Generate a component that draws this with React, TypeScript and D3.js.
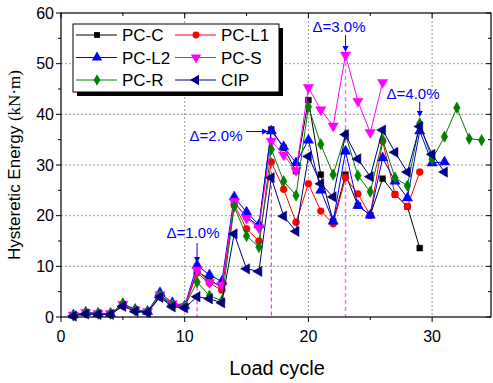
import * as d3 from "d3";

const cycles = d3.range(1, 35);

const pcC = [0.3, 0.8, 0.6, 0.6, 2.4, 1.3, 1.0, 4.2, 2.4, 2.0, 9.0, 7.5, 5.7, 22.5, 19.8, 17.9, 37.0, 33.4, 28.8, 42.8, 28.1, 18.9, 28.1, 22.0, 20.1, 27.3, 24.2, 21.8, 13.6];
const pcL1 = [0.3, 0.8, 0.6, 0.6, 2.3, 1.3, 1.0, 4.0, 2.3, 1.9, 8.7, 6.7, 5.3, 22.2, 17.4, 15.0, 30.6, 25.2, 18.7, 26.3, 20.9, 18.4, 27.5, 24.3, 20.1, 34.7, 24.2, 21.8, 28.6];
const pcL2 = [0.4, 0.9, 0.7, 0.7, 2.6, 1.5, 1.1, 4.8, 2.8, 2.2, 10.2, 8.3, 7.0, 23.7, 20.7, 18.2, 36.7, 33.6, 30.4, 34.9, 25.0, 18.9, 32.7, 22.0, 20.1, 31.4, 26.8, 23.5, 36.7, 30.4, 30.6];
const pcS = [0.4, 0.9, 0.7, 0.7, 2.5, 1.4, 1.1, 4.4, 2.6, 2.1, 9.3, 6.8, 6.3, 22.8, 19.5, 17.6, 34.7, 32.0, 28.9, 45.3, 40.9, 37.7, 51.7, 42.6, 36.4, 46.3];
const pcR = [0.3, 0.9, 0.7, 0.7, 2.6, 1.4, 1.1, 4.3, 2.4, 2.1, 6.9, 4.2, 3.2, 21.8, 16.0, 13.8, 33.1, 26.8, 24.0, 41.5, 34.1, 28.1, 36.0, 27.9, 24.7, 35.0, 27.5, 25.9, 38.2, 31.1, 35.6, 41.3, 35.2, 34.9];
const cip = [0.2, 0.6, 0.5, 0.5, 2.1, 1.1, 0.9, 3.9, 2.0, 1.8, 4.0, 3.6, 2.8, 16.4, 9.5, 9.0, 27.5, 19.9, 16.9, 31.7, 26.3, 23.7, 36.0, 31.2, 27.7, 36.9, 32.5, 28.6, 37.6, 32.1, 28.6];

const seriesNames = ["PC-C", "PC-L1", "PC-L2", "PC-S", "PC-R", "CIP"];
const seriesValues = [pcC, pcL1, pcL2, pcS, pcR, cip];
const seriesColors = ["#000000", "#ff0000", "#0000ff", "#ff00ff", "#008000", "#000080"];

const driftCycles = [11, 17, 23];
const notes = [
  { label: "Δ=1.0%", cycle: 11 },
  { label: "Δ=2.0%", cycle: 17 },
  { label: "Δ=3.0%", cycle: 23 },
  { label: "Δ=4.0%", cycle: 29 },
];

const xTicks = [0, 10, 20, 30];
const yTicks = [0, 10, 20, 30, 40, 50, 60];

const W = 493;
const H = 383;
const left = 61, right = 491, top = 13, bottom = 317;
const font = "'Liberation Sans', Arial, sans-serif";

function marker(i: number) {
  const types = [d3.symbolSquare, d3.symbolCircle, d3.symbolTriangle, d3.symbolTriangle, d3.symbolDiamond, d3.symbolTriangle];
  const sizes = [34, 38, 46, 46, 38, 46];
  const rot = [0, 0, 0, 180, 0, -90];
  return { d: d3.symbol().type(types[i]).size(sizes[i])() as string, rot: rot[i] };
}

export default function App() {
  const x = d3.scaleLinear().domain([0, 34.76]).range([left, right]);
  const y = d3.scaleLinear().domain([0, 60]).range([bottom, top]);
  const line = d3.line<number>().x((_, i) => x(cycles[i])).y(v => y(v));

  const maxAt = (c: number) => d3.max(seriesValues, s => s[c - 1] ?? 0) as number;

  return (
    <svg width={W} height={H} style={{ position: "absolute", left: 0, top: 0, background: "#fff" }}>
      {/* grid */}
      {xTicks.filter(t => t > 0).map(t => (
        <line key={"gx" + t} x1={x(t)} x2={x(t)} y1={top} y2={bottom} stroke="#999" strokeDasharray="2,2" />
      ))}
      {yTicks.filter(t => t > 0 && t < 60).map(t => (
        <line key={"gy" + t} x1={left} x2={right} y1={y(t)} y2={y(t)} stroke="#999" strokeDasharray="2,2" />
      ))}

      {/* drift markers */}
      {driftCycles.map((c, k) => (
        <line key={"dv" + c} x1={x(c)} x2={x(c)} y1={y(maxAt(c))} y2={bottom}
          stroke={k === 2 ? "#ff66ff" : "#ff00ff"} strokeDasharray="4,3" strokeWidth={k === 2 ? 1.4 : 1} />
      ))}

      {/* series */}
      {seriesValues.map((s, i) => (
        <g key={seriesNames[i]}>
          <path d={line(s) as string} fill="none" stroke={seriesColors[i]} strokeWidth={1} />
          {s.map((v, j) => {
            const m = marker(i);
            return (
              <path key={j} d={m.d} fill={seriesColors[i]} stroke={seriesColors[i]} strokeWidth={0.5}
                transform={`translate(${x(cycles[j])},${y(v)}) rotate(${m.rot})`} />
            );
          })}
        </g>
      ))}

      {/* frame */}
      <rect x={left} y={top} width={right - left} height={bottom - top} fill="none" stroke="#000" strokeWidth={1.2} />

      {/* x ticks */}
      {d3.range(0, 35, 5).map(t => {
        const major = t % 10 === 0;
        return (
          <g key={"xt" + t}>
            <line x1={x(t)} x2={x(t)} y1={bottom} y2={bottom + (major ? 5 : 3)} stroke="#000" />
            <line x1={x(t)} x2={x(t)} y1={top} y2={top + (major ? 5 : 3)} stroke="#000" />
          </g>
        );
      })}
      {xTicks.map(t => (
        <text key={"xl" + t} x={x(t)} y={bottom + 25} textAnchor="middle" fontFamily={font} fontSize={16}>{t}</text>
      ))}

      {/* y ticks */}
      {d3.range(0, 65, 5).map(t => {
        const major = t % 10 === 0;
        return (
          <g key={"yt" + t}>
            <line x1={left - (major ? 5 : 3)} x2={left} y1={y(t)} y2={y(t)} stroke="#000" />
            <line x1={right - (major ? 5 : 3)} x2={right} y1={y(t)} y2={y(t)} stroke="#000" />
          </g>
        );
      })}
      {yTicks.map(t => (
        <text key={"yl" + t} x={left - 7} y={y(t) + 5.5} textAnchor="end" fontFamily={font} fontSize={16}>{t}</text>
      ))}

      {/* axis titles */}
      <text x={(left + right) / 2 + 1} y={375} textAnchor="middle" fontFamily={font} fontSize={20}>Load cycle</text>
      <text transform={`translate(20,${(top + bottom) / 2}) rotate(-90)`} textAnchor="middle" fontFamily={font} fontSize={17}>
        Hysteretic Energy <tspan fontFamily="'Liberation Serif', 'Times New Roman', serif">(kN·m)</tspan>
      </text>

      {/* annotations */}
      <g fill="#0000ff" fontFamily={font} fontSize={15}>
        <text x={193} y={238} textAnchor="middle">{notes[0].label}</text>
        <line x1={x(notes[0].cycle)} x2={x(notes[0].cycle)} y1={243} y2={258} stroke="#0000ff" />
        <path d={`M${x(notes[0].cycle) - 3},257 L${x(notes[0].cycle) + 3},257 L${x(notes[0].cycle)},263 Z`} />

        <text x={216} y={141} textAnchor="middle">{notes[1].label}</text>
        <line x1={246} x2={263} y1={131.5} y2={131.5} stroke="#0000ff" />
        <path d={`M262,128.5 L262,134.5 L268,131.5 Z`} />

        <text x={339} y={32} textAnchor="middle">{notes[2].label}</text>
        <line x1={x(notes[2].cycle)} x2={x(notes[2].cycle)} y1={35} y2={47} stroke="#0000ff" />
        <path d={`M${x(notes[2].cycle) - 3},46 L${x(notes[2].cycle) + 3},46 L${x(notes[2].cycle)},52 Z`} />

        <text x={413} y={99} textAnchor="middle">{notes[3].label}</text>
        <line x1={x(notes[3].cycle)} x2={x(notes[3].cycle)} y1={102} y2={112} stroke="#0000ff" />
        <path d={`M${x(notes[3].cycle) - 3},111 L${x(notes[3].cycle) + 3},111 L${x(notes[3].cycle)},117 Z`} />
      </g>

      {/* legend */}
      <rect x={77} y={28} width={206} height={68} fill="#000" />
      <rect x={73} y={24} width={206} height={68} fill="#fff" stroke="#000" strokeWidth={1} />
      {seriesNames.map((name, i) => {
        const col = i % 2;
        const row = Math.floor(i / 2);
        const lx = col === 0 ? 76 : 175;
        const ly = 35 + row * 22.5;
        const m = marker(i);
        return (
          <g key={"lg" + name}>
            <line x1={lx} x2={lx + 41} y1={ly} y2={ly} stroke={seriesColors[i]} strokeWidth={1} />
            <path d={m.d} fill={seriesColors[i]} transform={`translate(${lx + 21},${ly}) rotate(${m.rot})`} />
            <text x={lx + 46} y={ly + 6} fontFamily={font} fontSize={17}>{name}</text>
          </g>
        );
      })}
    </svg>
  );
}
